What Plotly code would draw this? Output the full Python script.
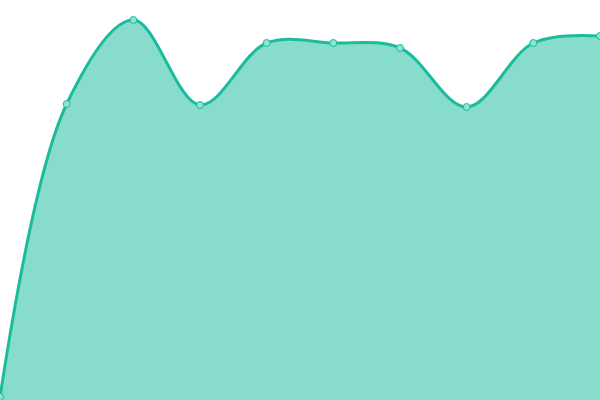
import plotly.graph_objects as go

categories = [0, 1, 2, 3, 4, 5, 6, 7, 8, 9]
values = [3, 296, 380, 295, 357, 357, 352, 293, 357, 364]

fig = go.Figure()
fig.add_trace(go.Scatter(
    x=categories, y=values,
    mode="lines+markers",
    line=dict(shape="spline", smoothing=1, color="#1abc9c", width=3),
    fill="tozeroy",
    fillcolor="rgba(26,188,156,0.52)",
    marker=dict(size=7, color="#8fe3d2", line=dict(color="#1abc9c", width=1)),
    hoverinfo="skip",
))
fig.update_layout(
    width=600, height=400,
    margin=dict(l=0, r=0, t=0, b=0),
    paper_bgcolor="white", plot_bgcolor="white",
    showlegend=False,
    xaxis=dict(visible=False, range=[0, 9]),
    yaxis=dict(visible=False, range=[0, 400]),
)
fig.write_html("out.html", config={"displayModeBar": False},
               post_script="document.body.style.margin='0';document.body.style.overflow='hidden';")
